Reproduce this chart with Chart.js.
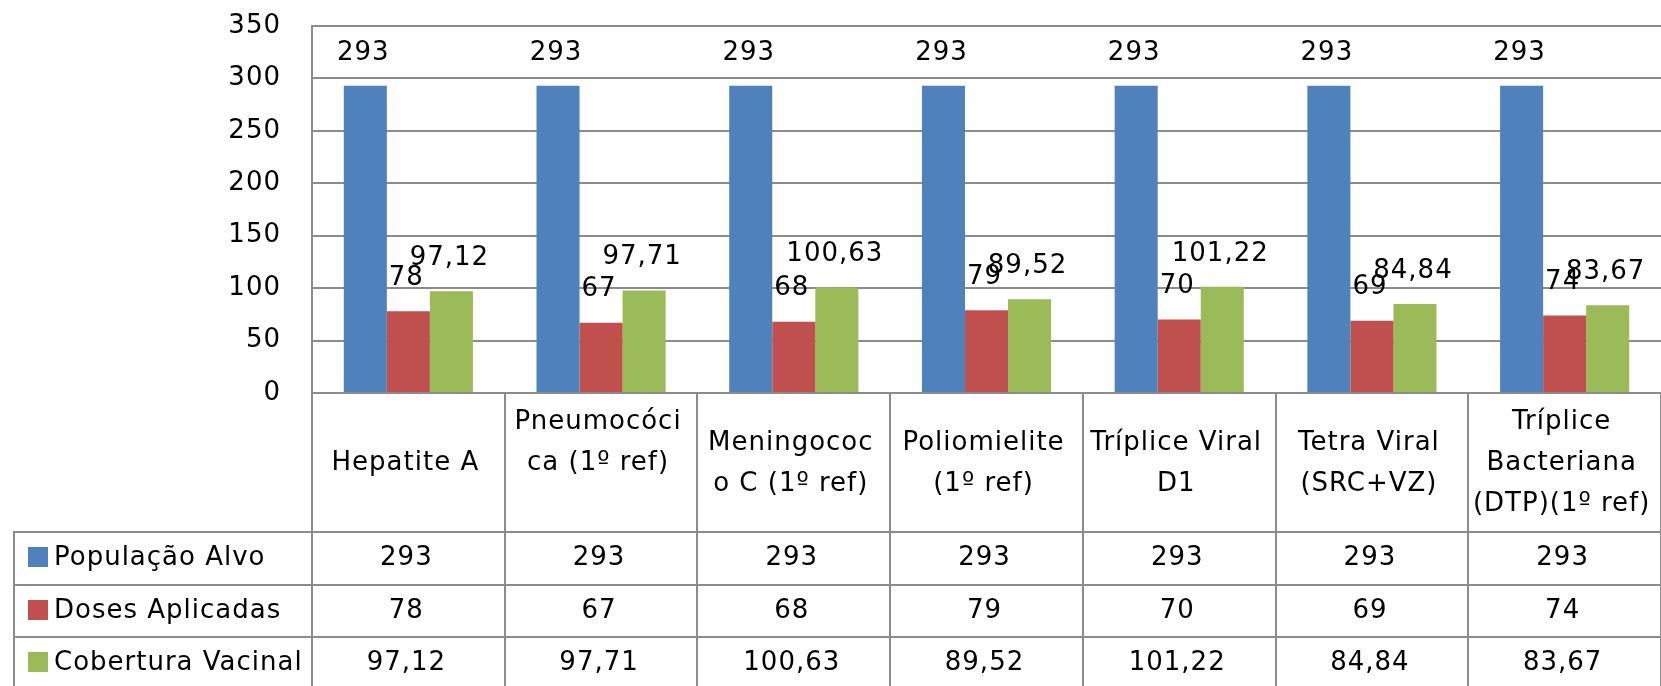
<!DOCTYPE html>
<html><head><meta charset="utf-8">
<script src="https://cdn.jsdelivr.net/npm/chart.js@4.4.1/dist/chart.umd.min.js"></script>
<style>html,body{margin:0;padding:0;background:#fff;overflow:hidden}#wrap{width:1661px;height:686px;position:relative}</style>
</head><body><div id="wrap"><canvas id="c" width="1661" height="686"></canvas></div>
<script>
// ---- data ----
const categories = [
  ['Hepatite A'],
  ['Pneumocóci', 'ca (1º ref)', ''],
  ['Meningococ', 'o C (1º ref)'],
  ['Poliomielite', '(1º ref)'],
  ['Tríplice Viral', 'D1'],
  ['Tetra Viral', '(SRC+VZ)'],
  ['Tríplice', 'Bacteriana', '(DTP)(1º ref)']
];
const seriesNames = ['População Alvo', 'Doses Aplicadas', 'Cobertura Vacinal'];
const populacaoAlvo = [293, 293, 293, 293, 293, 293, 293];
const dosesAplicadas = [78, 67, 68, 79, 70, 69, 74];
const coberturaVacinal = [97.12, 97.71, 100.63, 89.52, 101.22, 84.84, 83.67];
const yMin = 0, yMax = 350, yStep = 50;

// ---- style ----
const colors = ['#4F81BD', '#C0504D', '#9BBB59'];
const gridColor = '#8c8c8c';
const FONT = '"DejaVu Sans", Verdana, sans-serif';
const fmt = v => String(v).replace('.', ',');

const seriesValues = [populacaoAlvo, dosesAplicadas, coberturaVacinal];

const spacing = {
  id: 'spacing',
  beforeDraw(chart) { chart.ctx.letterSpacing = '1px'; }
};

const dataLabels = {
  id: 'dataLabels',
  afterDatasetsDraw(chart) {
    const ctx = chart.ctx;
    ctx.save();
    ctx.font = '26px ' + FONT;
    ctx.fillStyle = '#000';
    ctx.textAlign = 'center';
    ctx.textBaseline = 'middle';
    chart.data.datasets.forEach((ds, di) => {
      const meta = chart.getDatasetMeta(di);
      meta.data.forEach((bar, i) => {
        ctx.fillText(fmt(ds.data[i]), bar.x - 2, bar.y - 33);
      });
    });
    ctx.restore();
  }
};

const dataTable = {
  id: 'dataTable',
  afterDraw(chart) {
    const ctx = chart.ctx;
    const ca = chart.chartArea;
    const xs = chart.scales.x;
    const n = categories.length;
    const colW = (ca.right - ca.left) / n;
    const top = ca.bottom;
    const headerH = 139;
    const rowH = 52.5;
    const legLeft = 14;
    const bottom = chart.height + 10;
    ctx.save();
    ctx.strokeStyle = gridColor;
    ctx.lineWidth = 2;
    ctx.beginPath();
    for (let i = 0; i <= n; i++) {
      const x = Math.round(xs.getPixelForValue(0) - colW / 2 + i * colW);
      ctx.moveTo(x, top); ctx.lineTo(x, bottom);
    }
    ctx.moveTo(legLeft, top + headerH); ctx.lineTo(legLeft, bottom);
    for (let r = 0; r <= 3; r++) {
      const y = Math.round(top + headerH + r * rowH);
      ctx.moveTo(legLeft - 1, y); ctx.lineTo(ca.right + 5, y);
    }
    ctx.stroke();

    ctx.fillStyle = '#000';
    ctx.font = '26px ' + FONT;
    ctx.textAlign = 'center';
    ctx.textBaseline = 'middle';
    const lh = 41;
    categories.forEach((lines, i) => {
      const cx = xs.getPixelForValue(i) - 3;
      const cy = top + headerH / 2 + 1;
      const start = cy - (lines.length - 1) * lh / 2;
      lines.forEach((t, k) => ctx.fillText(t, cx, start + k * lh));
    });
    seriesValues.forEach((vals, r) => {
      const cy = top + headerH + rowH * (r + 0.5);
      vals.forEach((v, i) => ctx.fillText(fmt(v), xs.getPixelForValue(i) - 2, cy));
      ctx.fillStyle = colors[r];
      ctx.fillRect(28, Math.round(cy - 11), 20, 20);
      ctx.fillStyle = '#000';
      ctx.textAlign = 'left';
      ctx.fillText(seriesNames[r], 54, cy);
      ctx.textAlign = 'center';
    });
    ctx.restore();
  }
};

new Chart(document.getElementById('c'), {
  type: 'bar',
  data: {
    labels: categories,
    datasets: seriesNames.map((name, i) => ({
      label: name,
      data: seriesValues[i],
      backgroundColor: colors[i],
      borderWidth: 0,
      categoryPercentage: 0.67,
      barPercentage: 1.0
    }))
  },
  options: {
    responsive: false,
    devicePixelRatio: 1,
    animation: false,
    layout: { padding: { top: 26, bottom: 293, left: 0, right: 0 } },
    plugins: { legend: { display: false }, tooltip: { enabled: false } },
    scales: {
      x: { display: false },
      y: {
        min: yMin, max: yMax,
        ticks: { stepSize: yStep, padding: 31, color: '#000', font: { family: FONT, size: 26 } },
        grid: { color: gridColor, lineWidth: 2, drawTicks: false },
        border: { display: true, color: gridColor, width: 2 },
        afterFit(scale) { scale.width = 312; scale.paddingTop = 0; scale.paddingBottom = 0; }
      }
    }
  },
  plugins: [spacing, dataLabels, dataTable]
});
</script>
</body></html>
